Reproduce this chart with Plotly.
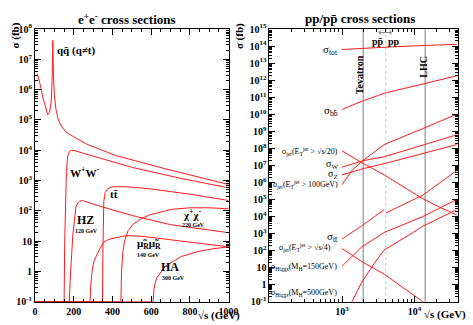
import plotly.graph_objects as go

W, H = 473, 325
RED = "#ff1a1a"
FONT = "Liberation Serif"

# ---------------- e+e- cross sections (sqrt(s) in GeV, sigma in fb) ----------------
qq_x = [10, 25, 40, 55, 65, 75, 83, 88, 91.5, 95, 100, 108, 120, 135, 160, 190, 270, 420, 672, 1000]
qq_y = [3.4e6, 1.6e6, 5.6e5, 2.2e5, 1.5e5, 1.8e5, 4.0e5, 2.0e6, 4.2e7, 2.5e6, 6.3e5, 2.2e5,
        1.0e5, 6.3e4, 4.0e4, 3.0e4, 1.55e4, 6.6e3, 2.45e3, 740]
ww_x = [0, 150, 153, 157, 162, 168, 178, 190, 210, 250, 337, 504, 755, 1000]
ww_y = [0.1, 0.1, 10, 316, 2000, 6300, 9300, 1.0e4, 9500, 7900, 5500, 2700, 1170, 575]
hz_x = [0, 177, 181, 186, 195, 203, 211, 220, 230, 245, 300, 400, 521, 700, 1000]
hz_y = [0.1, 0.1, 0.5, 2.5, 16, 45, 135, 182, 209, 219, 166, 107, 65, 35, 19]
tt_x = [0, 348, 350, 352, 355, 362, 375, 400, 450, 520, 600, 800, 1000]
tt_y = [0.1, 0.1, 3.2, 63, 200, 400, 540, 620, 630, 590, 525, 355, 220]
chi_x = [0, 443, 447, 453, 462, 480, 504, 550, 588, 650, 704, 800, 900, 1000]
chi_y = [0.1, 0.1, 1.0, 4.0, 10, 22, 35, 56, 72, 93, 112, 126, 126, 117]
mu_x = [0, 284, 287, 295, 305, 320, 353, 378, 420, 470, 550, 672, 850, 1000]
mu_y = [0.1, 0.1, 0.32, 1.1, 2.2, 3.7, 9.1, 11.2, 13.2, 15.1, 14.5, 11.7, 8.9, 6.5]
ha_x = [0, 610, 614, 620, 630, 672, 755, 839, 920, 1000]
ha_y = [0.1, 0.1, 0.25, 0.4, 0.63, 1.48, 3.1, 4.5, 5.6, 6.5]

# ---------------- pp / ppbar cross sections ----------------
tot_x = [1000, 1960, 4000, 14000, 38000]
tot_y = [6.3e13, 7.6e13, 8.7e13, 1.1e14, 1.26e14]
bb_x = [1000, 1860, 3800, 13000, 38000]
bb_y = [1.9e10, 5.75e10, 1.7e11, 6.2e11, 1.8e12]
jet20_x = [1000, 1960, 3800, 9500, 13000, 22000, 38000]
jet20_y = [7.1e7, 1.3e7, 2.75e6, 2.6e5, 1.1e5, 3.6e4, 1.23e4]
w_x = [1000, 1960, 3800, 38000]
w_y = [7.9e6, 1.9e7, 3.2e7, 6.2e8]
z_x = [1000, 1960, 3800, 38000]
z_y = [2.75e6, 6.5e6, 1.26e7, 1.66e8]
jet100_x = [1000, 1400, 1960, 2770, 3800, 13000, 38000]
jet100_y = [7.4e5, 5.6e6, 2.0e7, 6.3e7, 1.66e8, 1.45e9, 1.0e10]
ttp_ppbar_x = [1000, 1860, 3800]
ttp_ppbar_y = [480, 2800, 2.5e4]
ttp_pp_x = [4000, 13000, 38000]
ttp_pp_y = [1.6e4, 1.8e5, 5.0e6]
h150_x = [1000, 1860, 3800, 13000, 38000]
h150_y = [12, 162, 1150, 1.0e4, 1.0e5]
h500_x = [1370, 1860, 2800, 3800, 9500, 13000, 38000]
h500_y = [0.1, 1.35, 18.6, 107, 1150, 2700, 2.5e4]
jet4_x = [1000, 1960, 3800, 13000]
jet4_y = [132, 20, 4.2, 0.1]

collider_sqrt_s = [1960, 14000]      # Tevatron, LHC
ppbar_pp_boundary = 4000

fig = go.Figure()


def curve(x, y, xa, ya):
    fig.add_trace(go.Scatter(x=x, y=y, mode="lines", xaxis=xa, yaxis=ya,
                             line=dict(color=RED, width=1), hoverinfo="skip",
                             showlegend=False))


for cx, cy in [(qq_x, qq_y), (ww_x, ww_y), (hz_x, hz_y), (tt_x, tt_y),
               (chi_x, chi_y), (mu_x, mu_y), (ha_x, ha_y)]:
    curve(cx, cy, "x", "y")

for cx, cy in [(tot_x, tot_y), (bb_x, bb_y), (jet20_x, jet20_y), (w_x, w_y), (z_x, z_y),
               (jet100_x, jet100_y), (ttp_ppbar_x, ttp_ppbar_y), (ttp_pp_x, ttp_pp_y),
               (h150_x, h150_y), (h500_x, h500_y), (jet4_x, jet4_y)]:
    curve(cx, cy, "x2", "y2")


def px(x, y):
    return x / W, 1 - y / H


def dec_label(n):
    if n == 0:
        return "1"
    if n == 1:
        return "10"
    return "10<sup>%d</sup>" % n


def log_ticks(lo, hi):
    vals = [10.0 ** n for n in range(lo, hi + 1)]
    text = [dec_label(n) for n in range(lo, hi + 1)]
    return vals, text


tickfont = dict(family=FONT, size=10, color="black", weight="bold")
common = dict(showline=True, linecolor="black", linewidth=1, mirror="allticks",
              ticks="inside", ticklen=6, tickcolor="black", showgrid=False,
              zeroline=False, tickfont=tickfont)
minor_log = dict(dtick="D1", ticks="inside", ticklen=3, tickcolor="black", showgrid=False)

y1v, y1t = log_ticks(-1, 8)
y2v, y2t = log_ticks(-1, 15)

ydom = [(H - 307) / H, (H - 23) / H]
fig.update_layout(
    width=W, height=H, margin=dict(l=0, r=0, t=0, b=0),
    paper_bgcolor="white", plot_bgcolor="white",
    xaxis=dict(domain=[33 / W, 232 / W], range=[0, 1000], tickvals=[0, 200, 400, 600, 800, 1000],
               minor=dict(dtick=50, ticks="inside", ticklen=3, tickcolor="black"),
               anchor="y", **common),
    yaxis=dict(domain=ydom, type="log", range=[-1, 8], tickvals=y1v, ticktext=y1t,
               minor=minor_log, anchor="x", **common),
    xaxis2=dict(domain=[274 / W, 468 / W], type="log", range=[2, 4.6],
                tickvals=[1000, 10000], ticktext=["10<sup>3</sup>", "10<sup>4</sup>"],
                minor=minor_log, anchor="y2", **common),
    yaxis2=dict(domain=ydom, type="log", range=[-1, 15], tickvals=y2v, ticktext=y2t,
                minor=minor_log, anchor="x2", **common),
)

# reference lines in the pp panel
for e in collider_sqrt_s:
    fig.add_shape(type="line", xref="x2", yref="y2 domain", x0=e, x1=e, y0=0, y1=1,
                  line=dict(color="#a8a8a8", width=1.5), layer="below")
fig.add_shape(type="line", xref="x2", yref="y2 domain", x0=ppbar_pp_boundary, x1=ppbar_pp_boundary,
              y0=0, y1=1, line=dict(color="#c8c8c8", width=1, dash="dot"), layer="below")


def ann(x, y, text, size=11, bold=True, xanchor="center", angle=0, color="black"):
    ax, ay = px(x, y)
    fig.add_annotation(x=ax, y=ay, xref="paper", yref="paper", text=text, showarrow=False,
                       xanchor=xanchor, yanchor="middle", textangle=angle,
                       font=dict(family=FONT, size=size, color=color,
                                 weight="bold" if bold else "normal"))


# titles and axis labels
ann(127, 12, "e<sup>+</sup>e<sup>-</sup> cross sections", 13)
ann(367, 12, "pp/pp\u0304 cross sections", 13)
ann(13, 30, "σ (fb)", 11, angle=-90)
ann(243, 30, "σ (fb)", 11, angle=-90)
ann(222, 321, "√s (GeV)", 11)
ann(455, 320, "√s (GeV)", 11)

# e+e- labels
ann(75, 45, "qq\u0304 (q≠t)", 11)
ann(84, 172, "W<sup>+</sup>W<sup>-</sup>", 11)
ann(114, 195, "tt\u0304", 11)
ann(85, 222, "HZ", 12)
ann(86, 233, "120 GeV", 6)
ann(195, 216, "χ<sup>+</sup>χ<sup>-</sup>", 11)
ann(196, 227, "220 GeV", 6)
ann(150, 247, "μ\u0303<sub>R</sub>μ\u0303<sub>R</sub>", 11)
ann(150, 258, "140 GeV", 6)
ann(172, 271, "HA", 12)
ann(175, 282, "300 GeV", 6)

# pp labels
ann(347, 45, "σ<sub>tot</sub>", 11, bold=False, xanchor="right")
ann(347, 108, "σ<sub>bb\u0304</sub>", 11, bold=False, xanchor="right")
ann(347, 151, "σ<sub>jet</sub>(E<sub>T</sub><sup>jet</sup> > √s/20)", 8, bold=False, xanchor="right")
ann(347, 164, "σ<sub>W</sub>", 10, bold=False, xanchor="right")
ann(347, 174, "σ<sub>Z</sub>", 10, bold=False, xanchor="right")
ann(347, 185, "σ<sub>jet</sub>(E<sub>T</sub><sup>jet</sup> > 100GeV)", 8, bold=False, xanchor="right")
ann(347, 240, "σ<sub>tt\u0304</sub>", 11, bold=False, xanchor="right")
ann(339, 251, "σ<sub>jet</sub>(E<sub>T</sub><sup>jet</sup> > √s/4)", 8, bold=False, xanchor="right")
ann(346, 271, "σ<sub>Higgs</sub>(M<sub>H</sub>=150GeV)", 8, bold=False, xanchor="right")
ann(346, 298, "σ<sub>Higgs</sub>(M<sub>H</sub>=500GeV)", 8, bold=False, xanchor="right")

ann(366, 70, "Tevatron", 10, angle=-90)
ann(432, 62, "LHC", 10, angle=-90)
ann(386, 36, "pp\u0304", 10)
ann(402, 36, "pp", 10)
ann(393, 27, "⟷", 10, bold=False, color="#888888")

fig.write_html("out.html")
